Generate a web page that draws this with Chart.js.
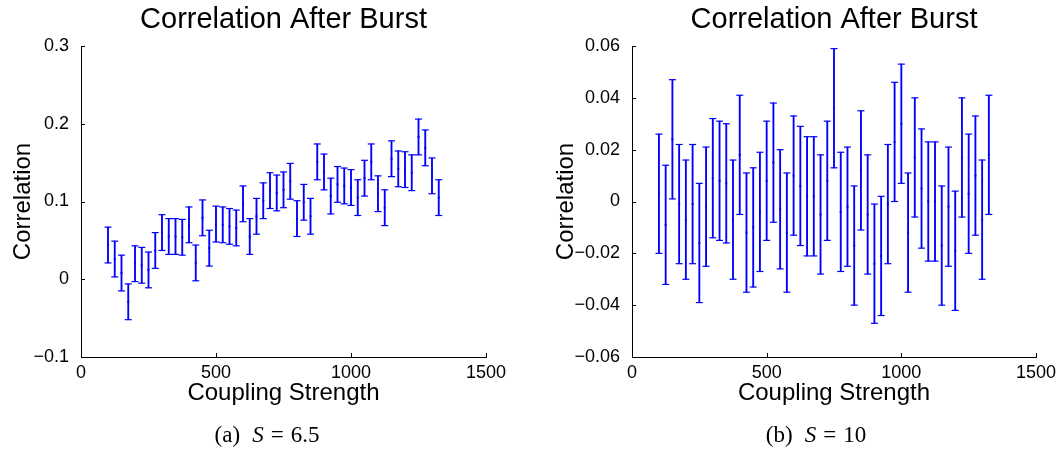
<!DOCTYPE html>
<html>
<head>
<meta charset="utf-8">
<script src="https://cdn.jsdelivr.net/npm/chart.js@4.4.1/dist/chart.umd.min.js"></script>
<style>
  body { margin: 0; background: #fff; overflow: hidden; }
  #wrap { position: relative; width: 1062px; height: 452px; }
  canvas { position: absolute; top: 0; }
  .caption { position: absolute; top: 422px; width: 240px; text-align: center;
             font: 23px "Liberation Serif", serif; line-height: 26px; color: #000; }
  .caption span { display: inline-block; }
  .caption .gap { width: 12px; }
  .caption .eq { margin: 0 7px; }
</style>
</head>
<body>
<div id="wrap">
  <canvas id="chart-a" width="531" height="452" style="left:0"></canvas>
  <canvas id="chart-b" width="531" height="452" style="left:531px"></canvas>
  <div class="caption" style="left:147px"><span>(a)</span><span class="gap"></span><i>S</i><span class="eq">=</span>6.5</div>
  <div class="caption" style="left:696px"><span>(b)</span><span class="gap"></span><i>S</i><span class="eq">=</span>10</div>
</div>
<script>
// Correlation after burst vs coupling strength, two noise levels

const couplingStrength = [100, 125, 150, 175, 200, 225, 250, 275, 300, 325,
  350, 375, 400, 425, 450, 475, 500, 525, 550, 575,
  600, 625, 650, 675, 700, 725, 750, 775, 800, 825,
  850, 875, 900, 925, 950, 975, 1000, 1025, 1050, 1075,
  1100, 1125, 1150, 1175, 1200, 1225, 1250, 1275, 1300, 1325];

// S = 6.5
const corrS65 = [0.044, 0.026, 0.008, -0.029, 0.020, 0.018, 0.012, 0.037, 0.060, 0.055,
  0.055, 0.054, 0.070, 0.021, 0.079, 0.040, 0.071, 0.070, 0.068, 0.066,
  0.097, 0.055, 0.081, 0.101, 0.114, 0.111, 0.115, 0.126, 0.078, 0.099,
  0.081, 0.151, 0.138, 0.107, 0.122, 0.120, 0.118, 0.105, 0.130, 0.151,
  0.110, 0.092, 0.155, 0.142, 0.141, 0.137, 0.183, 0.169, 0.133, 0.105];
const errS65 = [0.023, 0.023, 0.023, 0.023, 0.023, 0.023, 0.023, 0.023, 0.023, 0.023,
  0.023, 0.023, 0.023, 0.023, 0.023, 0.023, 0.023, 0.023, 0.023, 0.023,
  0.023, 0.023, 0.023, 0.023, 0.023, 0.023, 0.023, 0.023, 0.023, 0.023,
  0.023, 0.023, 0.023, 0.023, 0.023, 0.023, 0.023, 0.023, 0.023, 0.023,
  0.023, 0.023, 0.023, 0.023, 0.023, 0.023, 0.023, 0.023, 0.023, 0.023];

// S = 10
const corrS10 = [0.003, -0.009, 0.024, -0.001, -0.007, -0.001, -0.016, -0.002, 0.009, 0.008,
  0.007, -0.007, 0.018, -0.012, -0.010, -0.004, 0.008, 0.015, -0.003, -0.012,
  0.010, 0.006, 0.002, 0.002, -0.005, 0.008, 0.036, -0.004, -0.002, -0.017,
  0.012, -0.005, -0.024, -0.021, -0.001, 0.023, 0.030, -0.012, 0.017, 0.005,
  0.000, 0.000, -0.017, -0.002, -0.019, 0.017, 0.003, 0.010, -0.007, 0.018];
const errS10 = [0.023, 0.023, 0.023, 0.023, 0.023, 0.023, 0.023, 0.023, 0.023, 0.023,
  0.023, 0.023, 0.023, 0.023, 0.023, 0.023, 0.023, 0.023, 0.023, 0.023,
  0.023, 0.023, 0.023, 0.023, 0.023, 0.023, 0.023, 0.023, 0.023, 0.023,
  0.023, 0.023, 0.023, 0.023, 0.023, 0.023, 0.023, 0.023, 0.023, 0.023,
  0.023, 0.023, 0.023, 0.023, 0.023, 0.023, 0.023, 0.023, 0.023, 0.023];

const xTicks = [0, 500, 1000, 1500];
const yTicksS65 = [-0.1, 0, 0.1, 0.2, 0.3];
const yTicksS10 = [-0.06, -0.04, -0.02, 0, 0.02, 0.04, 0.06];

const BLUE = '#0000ff';
const FONT = '"Liberation Sans", Helvetica, Arial, sans-serif';

function fmt(v) {
  if (Math.abs(v) < 1e-9) return '0';
  return String(+v.toFixed(3)).replace('-', '\u2212');
}

// matlab style ticks pointing into the plot
const inwardTicks = {
  id: 'inwardTicks',
  afterDraw(chart) {
    const { ctx, chartArea, scales } = chart;
    ctx.save();
    ctx.strokeStyle = '#000';
    ctx.lineWidth = 1;
    ctx.beginPath();
    scales.x.ticks.forEach(t => {
      const px = Math.round(scales.x.getPixelForValue(t.value)) + 0.5;
      ctx.moveTo(px, chartArea.bottom);
      ctx.lineTo(px, chartArea.bottom - 4);
    });
    scales.y.ticks.forEach(t => {
      const py = Math.round(scales.y.getPixelForValue(t.value)) + 0.5;
      ctx.moveTo(chartArea.left, py);
      ctx.lineTo(chartArea.left + 4, py);
    });
    ctx.stroke();
    ctx.restore();
  }
};

function makeChart(id, means, errs, yTicks, yWidth, padRight, yTitlePad) {
  const lo = couplingStrength.map((x, i) => ({ x, y: means[i] - errs[i] }));
  const hi = couplingStrength.map((x, i) => ({ x, y: means[i] + errs[i] }));
  const mid = couplingStrength.map((x, i) => ({ x, y: means[i] }));
  const whiskers = couplingStrength.map((x, i) => ({ x, y: [means[i] - errs[i], means[i] + errs[i]] }));

  return new Chart(document.getElementById(id), {
    type: 'scatter',
    data: {
      datasets: [
        { type: 'bar', data: whiskers, backgroundColor: BLUE, borderWidth: 0, barThickness: 1.2 },
        { data: lo, pointStyle: 'line', pointRadius: 3.5, borderColor: BLUE, borderWidth: 1.2 },
        { data: hi, pointStyle: 'line', pointRadius: 3.5, borderColor: BLUE, borderWidth: 1.2 },
        { data: mid, pointStyle: 'rect', pointRadius: 1.4, backgroundColor: BLUE, borderColor: BLUE, borderWidth: 0 }
      ]
    },
    options: {
      responsive: false,
      animation: false,
      events: [],
      layout: { padding: { left: 0, right: padRight, top: 0, bottom: 0 } },
      plugins: {
        legend: { display: false },
        tooltip: { enabled: false },
        title: {
          display: true,
          text: 'Correlation After Burst',
          fullSize: false,
          color: '#000',
          font: { family: FONT, size: 29, weight: 'normal' },
          padding: { top: 3, bottom: 8.2 }
        }
      },
      scales: {
        x: {
          type: 'linear',
          offset: false,
          min: xTicks[0],
          max: xTicks[xTicks.length - 1],
          afterBuildTicks: s => { s.ticks = xTicks.map(v => ({ value: v })); },
          afterFit: s => { s.height = 95; },
          grid: { display: false, offset: false },
          border: { display: true, color: '#000', width: 1 },
          ticks: { color: '#000', padding: -3, maxRotation: 0, font: { family: FONT, size: 18 }, callback: v => fmt(v) },
          title: { display: true, text: 'Coupling Strength', color: '#000',
                   font: { family: FONT, size: 24 }, padding: { top: 0, bottom: 44.6 } }
        },
        y: {
          type: 'linear',
          min: yTicks[0],
          max: yTicks[yTicks.length - 1],
          afterBuildTicks: s => { s.ticks = yTicks.map(v => ({ value: v })); },
          afterFit: s => { s.width = yWidth; },
          grid: { display: false },
          border: { display: true, color: '#000', width: 1 },
          ticks: { color: '#000', padding: 4, font: { family: FONT, size: 18 }, callback: v => fmt(v) },
          title: { display: true, text: 'Correlation', color: '#000',
                   font: { family: FONT, size: 24 }, padding: { top: yTitlePad, bottom: 0 } }
        }
      }
    },
    plugins: [inwardTicks]
  });
}

makeChart('chart-a', corrS65, errS65, yTicksS65, 81, 45, 8.6);
makeChart('chart-b', corrS10, errS10, yTicksS10, 101, 26, 20.6);
</script>
</body>
</html>
